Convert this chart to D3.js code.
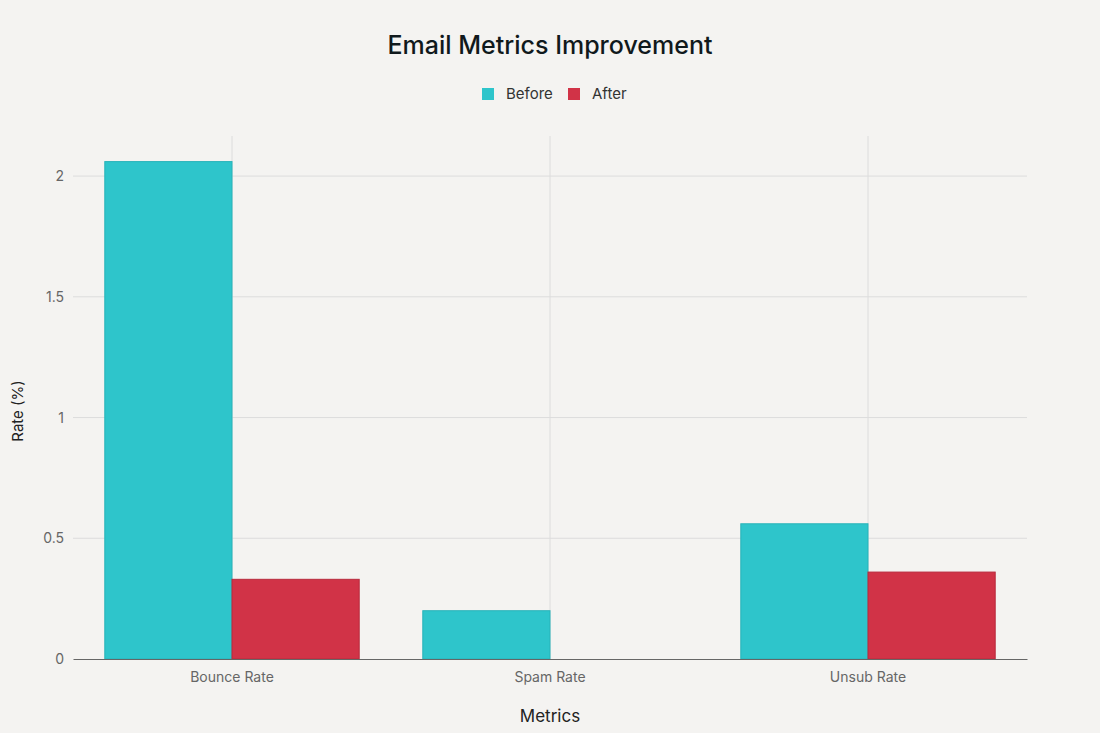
<!DOCTYPE html>
<html><head><meta charset="utf-8">
<script src="https://cdn.jsdelivr.net/npm/d3@7"></script>
<style>
html,body{margin:0;padding:0;background:#f4f3f1;}
svg{display:block;font-family:Inter,"Open Sans",sans-serif;}
</style></head>
<body><svg id="c" width="1100" height="733"></svg>
<script>
const categories = ["Bounce Rate", "Spam Rate", "Unsub Rate"];
const seriesNames = ["Before", "After"];
const beforeValues = [2.06, 0.2, 0.56];
const afterValues = [0.33, 0, 0.36];
const yTicks = [0, 0.5, 1, 1.5, 2];
const yTickLabels = ["0", "0.5", "1", "1.5", "2"];
const colors = ["#2ec5cb", "#d13347"];
const strokes = ["#27b3b9", "#b82a3d"];

const svg = d3.select("#c");
const m = {l:73, r:1027, t:136, b:659};
const x = d3.scaleBand().domain(categories).range([m.l, m.r]).padding(0);
const xs = d3.scaleBand().domain(seriesNames).range([0, x.bandwidth()]).paddingOuter(0.25).paddingInner(0);
const y = d3.scaleLinear().domain([0, 2.166]).range([m.b, m.t]);

const g = svg.append("g");
g.selectAll(".hg").data(yTicks.filter(d=>d>0)).enter().append("line")
  .attr("x1", m.l).attr("x2", m.r).attr("y1", d=>y(d)).attr("y2", d=>y(d))
  .attr("stroke", "#dcdcdc").attr("stroke-width", 1);
g.selectAll(".vg").data(categories).enter().append("line")
  .attr("x1", d=>x(d)+x.bandwidth()/2).attr("x2", d=>x(d)+x.bandwidth()/2)
  .attr("y1", m.t).attr("y2", m.b)
  .attr("stroke", "#dcdcdc").attr("stroke-width", 1);

const data = [beforeValues, afterValues];
seriesNames.forEach((s, i) => {
  g.selectAll(".b"+i).data(categories).enter().append("rect")
    .attr("x", d=>x(d)+xs(s))
    .attr("width", xs.bandwidth())
    .attr("y", (d,j)=>y(data[i][j]))
    .attr("height", (d,j)=>y(0)-y(data[i][j]))
    .attr("fill", colors[i])
    .attr("stroke", (d,j)=>data[i][j]>0?strokes[i]:"none").attr("stroke-width", 1);
});

const yAxis = d3.axisLeft(y).tickValues(yTicks).tickFormat((d,i)=>yTickLabels[i]).tickSize(0).tickPadding(9);
const ya = svg.append("g").attr("transform", `translate(${m.l},0)`).call(yAxis);
ya.select(".domain").remove();
ya.selectAll("text").attr("font-size", 14).attr("fill", "#666").attr("font-family", "Inter,sans-serif");

const xAxis = d3.axisBottom(x).tickSize(0).tickPadding(13);
const xa = svg.append("g").attr("transform", `translate(0,${m.b})`).call(xAxis);
xa.select(".domain").attr("stroke", "#666");
xa.selectAll("text").attr("font-size", 14).attr("fill", "#666").attr("font-family", "Inter,sans-serif");

svg.append("text").attr("x", 550).attr("y", 54).attr("text-anchor", "middle")
  .attr("font-size", 25).attr("font-weight", 500).attr("fill", "#10191c").text("Email Metrics Improvement");
svg.append("text").attr("x", 550).attr("y", 722).attr("text-anchor", "middle")
  .attr("font-size", 17).attr("fill", "#222").text("Metrics");
svg.append("text").attr("transform", "translate(23,411) rotate(-90)").attr("text-anchor", "middle")
  .attr("font-size", 15).attr("fill", "#222").text("Rate (%)");

const leg = svg.append("g");
const legX = [482, 568];
seriesNames.forEach((s,i)=>{
  leg.append("rect").attr("x", legX[i]).attr("y", 88).attr("width", 12).attr("height", 12).attr("fill", colors[i]);
  leg.append("text").attr("x", legX[i]+24).attr("y", 99).attr("font-size", 15).attr("fill", "#333").text(s);
});
</script></body></html>
